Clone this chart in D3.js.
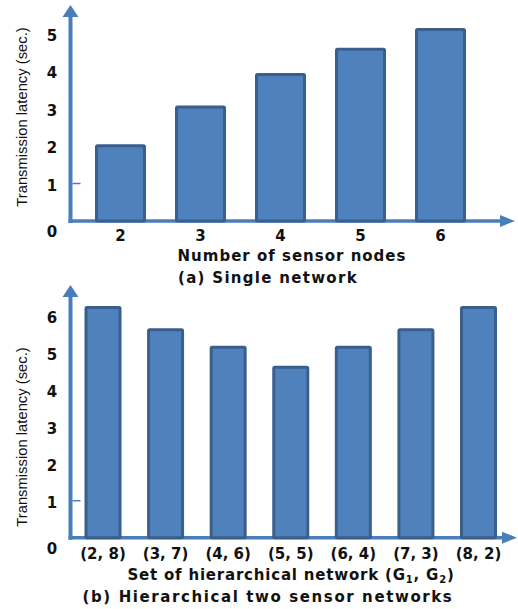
<!DOCTYPE html>
<html>
<head>
<meta charset="utf-8">
<script src="https://cdn.jsdelivr.net/npm/d3@7"></script>
<style>
  body { margin: 0; background: #fff; }
  svg { display: block; }
  .tick-label { font-family: "DejaVu Sans", sans-serif; font-weight: bold; font-size: 15px; fill: #111; }
  .axis-title { font-family: "DejaVu Sans", sans-serif; font-weight: bold; font-size: 15px; letter-spacing: 1px; fill: #111; }
  .caption { font-family: "DejaVu Sans", sans-serif; font-weight: bold; font-size: 15px; letter-spacing: 1.5px; fill: #111; }
  .y-title { font-family: "Liberation Sans", Arial, sans-serif; font-size: 14.8px; fill: #111; }
</style>
</head>
<body>
<div id="chart"></div>
<script>
// data
var singleNodes = ["2", "3", "4", "5", "6"];
var singleLatency = [2.05, 3.08, 3.95, 4.62, 5.15];
var singleTicks = [0, 1, 2, 3, 4, 5];

var hierSets = ["(2, 8)", "(3, 7)", "(4, 6)", "(5, 5)", "(6, 4)", "(7, 3)", "(8, 2)"];
var hierLatency = [6.26, 5.66, 5.19, 4.65, 5.19, 5.66, 6.26];
var hierTicks = [0, 1, 2, 3, 4, 5, 6];

var axisColor = "#4a7ebb";
var barFill = "#4f81bd";
var barStroke = "#3b5f8d";

var svg = d3.select("#chart").append("svg")
    .attr("width", 518)
    .attr("height", 609);

// one panel: arrows for axes, bars, labels
function drawPanel(opt) {
    var g = svg.append("g");

    var x = d3.scalePoint().domain(opt.cats).range(opt.xRange);
    var y = d3.scaleLinear().domain(opt.yDomain).range(opt.yRange);
    var y0 = y(0);

    // y axis with arrow
    g.append("line")
        .attr("x1", opt.axisX).attr("x2", opt.axisX)
        .attr("y1", y0 + 2).attr("y2", opt.yTip + 11)
        .attr("stroke", axisColor).attr("stroke-width", 4);
    g.append("path")
        .attr("d", "M" + opt.axisX + "," + opt.yTip + "L" + (opt.axisX - 8) + "," + (opt.yTip + 12) +
            "L" + (opt.axisX + 8) + "," + (opt.yTip + 12) + "Z")
        .attr("fill", axisColor);

    // x axis with arrow
    g.append("line")
        .attr("x1", opt.axisX - 2).attr("x2", opt.xTip - 14)
        .attr("y1", y0).attr("y2", y0)
        .attr("stroke", axisColor).attr("stroke-width", 3.5);
    g.append("path")
        .attr("d", "M" + opt.xTip + "," + y0 + "L" + (opt.xTip - 15) + "," + (y0 - 6) +
            "L" + (opt.xTip - 15) + "," + (y0 + 6) + "Z")
        .attr("fill", axisColor);

    // the single small tick at 1
    g.append("line")
        .attr("x1", opt.axisX + 2).attr("x2", opt.axisX + 10)
        .attr("y1", y(1)).attr("y2", y(1))
        .attr("stroke", axisColor).attr("stroke-width", 1.5);

    // bars
    g.selectAll("rect.bar")
        .data(opt.values)
        .enter().append("rect")
        .attr("class", "bar")
        .attr("x", function(d, i) { return x(opt.cats[i]) - opt.barW / 2; })
        .attr("y", function(d) { return y(d) + 1.5; })
        .attr("width", opt.barW)
        .attr("height", function(d) { return y0 - y(d) - 1.5; })
        .attr("rx", 1)
        .attr("fill", barFill)
        .attr("stroke", barStroke)
        .attr("stroke-width", 3)
        .attr("stroke-linejoin", "round");

    // y tick labels
    g.selectAll("text.ytick")
        .data(opt.yTicks)
        .enter().append("text")
        .attr("class", "tick-label")
        .attr("text-anchor", "middle")
        .attr("x", 52)
        .attr("y", function(d) { return d === 0 ? y(d) + 16 : y(d) + 7; })
        .text(function(d) { return d; });

    // x tick labels
    g.selectAll("text.xtick")
        .data(opt.cats)
        .enter().append("text")
        .attr("class", "tick-label")
        .attr("text-anchor", "middle")
        .attr("x", function(d) { return x(d); })
        .attr("y", opt.xLabelY)
        .text(function(d) { return d; });

    // titles
    var xt = g.append("text")
        .attr("class", "axis-title")
        .attr("text-anchor", "middle")
        .attr("x", opt.titleX)
        .attr("y", opt.titleY)
        .style("letter-spacing", opt.titleSpacing);
    opt.title(xt);

    g.append("text")
        .attr("class", "caption")
        .attr("text-anchor", "middle")
        .attr("x", 268)
        .attr("y", opt.captionY)
        .style("letter-spacing", opt.captionSpacing)
        .text(opt.caption);

    g.append("text")
        .attr("class", "y-title")
        .attr("text-anchor", "middle")
        .attr("transform", "translate(27," + opt.yTitleY + ") rotate(-90)")
        .text("Transmission latency (sec.)");
}

drawPanel({
    cats: singleNodes,
    values: singleLatency,
    yTicks: singleTicks,
    xRange: [120.5, 440.5],
    yDomain: [0, 5],
    yRange: [221, 33.5],
    barW: 48,
    axisX: 70.5,
    yTip: 5,
    xTip: 515,
    xLabelY: 241,
    titleX: 292,
    titleY: 261,
    titleSpacing: "1px",
    captionY: 283,
    captionSpacing: "1.3px",
    caption: "(a) Single network",
    yTitleY: 117,
    title: function(t) { t.text("Number of sensor nodes"); }
});

drawPanel({
    cats: hierSets,
    values: hierLatency,
    yTicks: hierTicks,
    xRange: [103, 478.5],
    yDomain: [0, 6],
    yRange: [537.7, 315.7],
    barW: 34,
    axisX: 70.5,
    yTip: 285,
    xTip: 517,
    xLabelY: 559,
    titleX: 291,
    titleY: 580,
    titleSpacing: "0.8px",
    captionY: 602,
    captionSpacing: "1.6px",
    caption: "(b) Hierarchical two sensor networks",
    yTitleY: 437,
    title: function(t) {
        t.append("tspan").text("Set of hierarchical network (G");
        t.append("tspan").attr("font-size", "10px").attr("dy", 3).text("1");
        t.append("tspan").attr("dy", -3).text(", G");
        t.append("tspan").attr("font-size", "10px").attr("dy", 3).text("2");
        t.append("tspan").attr("dy", -3).text(")");
    }
});
</script>
</body>
</html>
